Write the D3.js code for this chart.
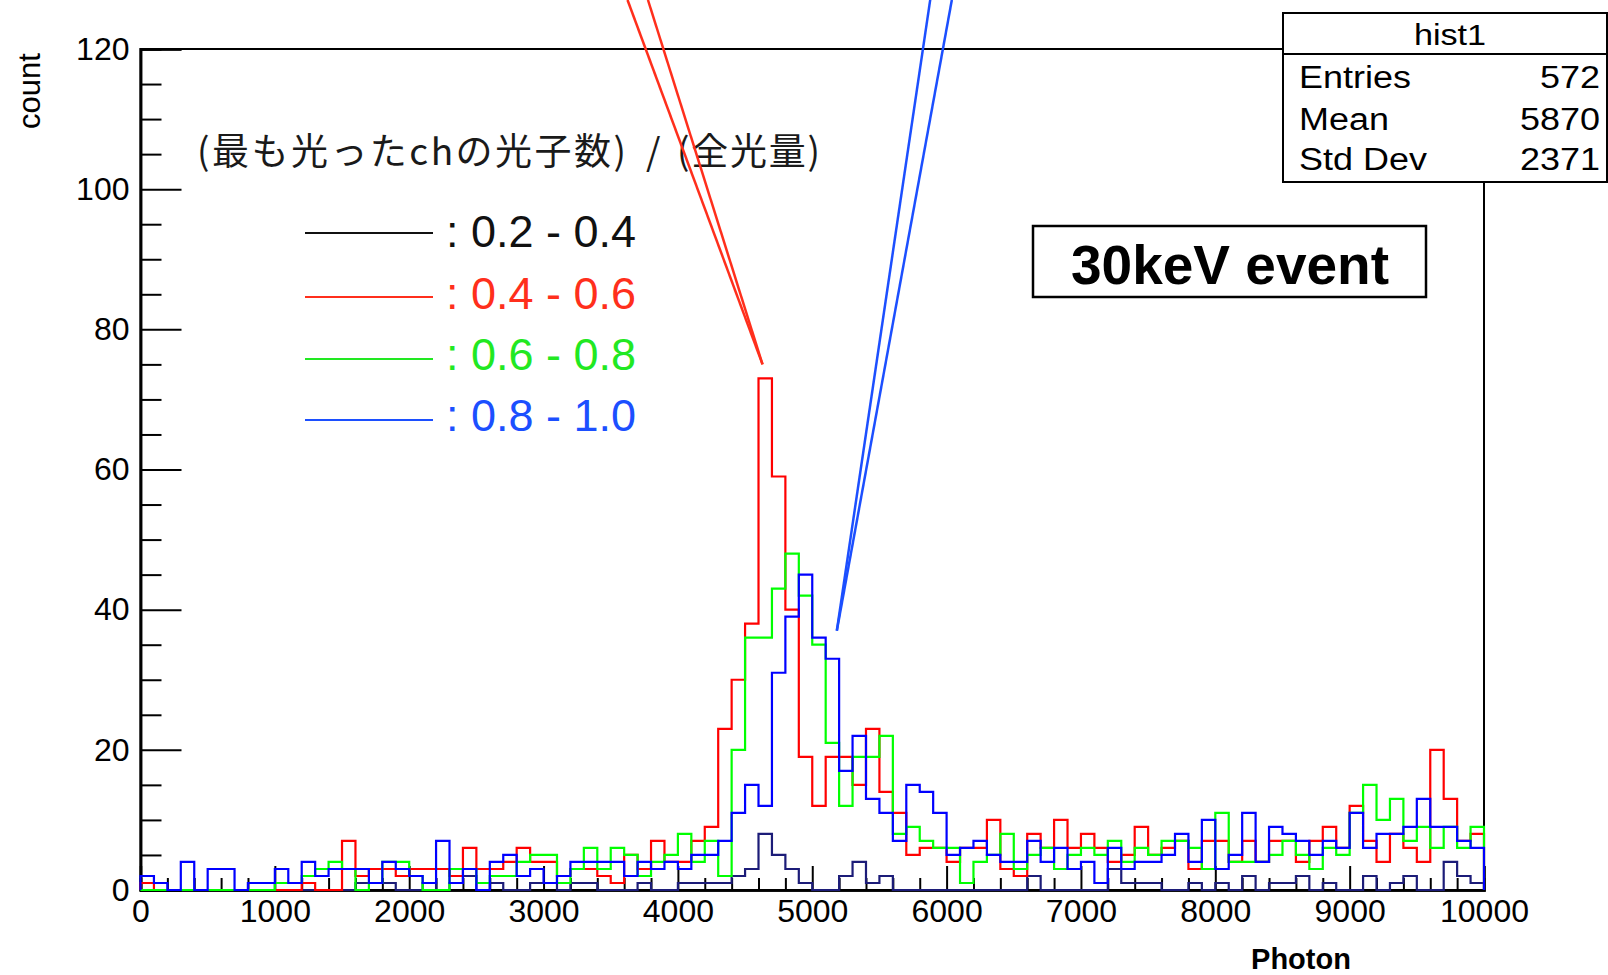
<!DOCTYPE html>
<html>
<head>
<meta charset="utf-8">
<script src="https://cdn.jsdelivr.net/npm/d3@7"></script>
<style>
  html, body { margin: 0; padding: 0; background: #ffffff; }
  svg { display: block; }
</style>
</head>
<body>
<svg id="chart" width="1608" height="975"></svg>
<script>
// ---- histogram binning (100 bins, 0 - 10000 photons) ----
const xMin = 0, xMax = 10000, binWidth = 100;

// counts per bin, one array per (max-ch photons)/(total light) selection
const countsK = [0,0,0,0,0,0,0,0,1,1, 0,0,0,0,0,0,1,1,1,0, 0,1,0,1,2,0,1,0,0,1,
                 1,0,1,1,0,0,0,1,0,0, 1,1,1,1,2,3,8,5,3,1, 0,0,2,4,1,2,0,0,0,0,
                 0,0,0,0,0,0,2,0,0,0, 0,0,3,1,1,1,0,0,1,0, 1,0,2,0,1,1,2,0,1,0,
                 0,2,0,1,2,0,0,4,2,1];
const countsR = [1,0,0,0,0,0,0,0,0,0, 0,0,1,0,0,7,2,3,3,2, 3,3,3,2,6,3,3,4,6,4,
                 4,2,3,3,2,1,5,3,7,4, 4,7,9,23,30,38,73,59,40,19, 12,19,19,15,23,14,11,5,6,6,
                 4,6,6,10,3,2,8,6,10,6, 8,6,4,5,9,5,6,7,3,7, 7,4,7,4,7,7,4,7,9,6,
                 12,7,4,8,6,4,20,13,7,8];
const countsG = [0,0,0,0,0,0,0,0,0,0, 1,1,2,3,4,3,0,1,4,4, 2,0,0,3,3,1,2,2,4,5,
                 5,1,3,6,3,6,5,2,4,5, 8,4,7,2,20,36,36,43,48,42, 35,21,12,19,19,22,8,9,7,6,
                 6,1,4,5,8,3,5,6,3,5, 6,5,7,4,6,5,7,7,6,3, 11,4,4,4,5,7,5,3,6,5,
                 11,15,10,13,7,9,6,9,6,9];
const countsB = [2,1,0,4,0,3,3,0,1,1, 3,1,4,2,3,3,3,1,4,3, 2,1,7,1,3,0,4,5,2,3,
                 1,2,4,4,4,4,2,4,3,4, 3,5,5,7,11,15,12,31,39,45, 36,33,17,22,13,11,7,15,14,11,
                 5,6,7,5,4,4,7,4,6,3, 4,1,6,3,4,4,5,8,4,10, 3,5,11,4,9,8,7,5,7,6,
                 11,6,8,8,9,13,9,9,7,6];

// axis ticks and labels
const yMajorTicks = [0, 20, 40, 60, 80, 100, 120];
const xMajorTicks = [0, 1000, 2000, 3000, 4000, 5000, 6000, 7000, 8000, 9000, 10000];
const yTitle = "count";
const xTitle = "Photon";

// legend
const legendHeaderParts = ["(最も光ったchの光子数)", "/", "(全光量)"];
const legendLabels = [": 0.2 - 0.4", ": 0.4 - 0.6", ": 0.6 - 0.8", ": 0.8 - 1.0"];
const legendColors = ["#111111", "#ff2f1c", "#22e822", "#1c4fff"];
const histColors   = ["#1c1c78", "#ff0000", "#00ff00", "#0000ff"];

// stats box
const statsTitle = "hist1";
const statsNames  = ["Entries", "Mean", "Std Dev"];
const statsValues = ["572", "5870", "2371"];

// annotation pointers, in data coordinates [photon, count]
const redPointers  = [[[3625, 127], [4630, 75]], [[3777, 127], [4630, 75]]];
const bluePointers = [[[5878, 127], [5183, 37]], [[6039, 127], [5183, 37]]];

const eventLabel = "30keV event";

// ---------------------------------------------------------------
const svg = d3.select("#chart");
const plotL = 140.5, plotR = 1484, plotT = 49, plotB = 890;

const x = d3.scaleLinear().domain([xMin, xMax]).range([plotL, plotR]);
const y = d3.scaleLinear().domain([0, 120]).range([plotB, plotT]);

svg.append("rect").attr("width", 1608).attr("height", 975).attr("fill", "#fff");

const FONT = "'Liberation Sans', Arial, Helvetica, sans-serif";
const CJK = "'Noto Sans CJK JP', 'Noto Sans CJK SC', sans-serif";

// frame
svg.append("rect")
  .attr("x", plotL).attr("y", plotT)
  .attr("width", plotR - plotL).attr("height", plotB - plotT)
  .attr("fill", "none").attr("stroke", "#000").attr("stroke-width", 2);

// y axis: major and minor ticks pointing inward
const yMinor = d3.range(0, 121, 5).filter(v => v % 20 !== 0);
svg.append("g").attr("transform", `translate(${plotL},0)`)
  .call(d3.axisLeft(y).tickValues(yMajorTicks).tickSize(-41).tickPadding(11).tickFormat(d3.format("d")));
svg.append("g").attr("transform", `translate(${plotL},0)`)
  .call(d3.axisLeft(y).tickValues(yMinor).tickSize(-21).tickFormat(""));

// x axis
const xMinor = d3.range(0, 10001, 200).filter(v => v % 1000 !== 0);
svg.append("g").attr("transform", `translate(0,${plotB})`)
  .call(d3.axisBottom(x).tickValues(xMajorTicks).tickSize(-24).tickPadding(9).tickFormat(d3.format("d")));
svg.append("g").attr("transform", `translate(0,${plotB})`)
  .call(d3.axisBottom(x).tickValues(xMinor).tickSize(-12).tickFormat(""));

svg.selectAll(".domain").attr("stroke", "#000").attr("stroke-width", 2.5);
svg.selectAll(".tick line").attr("stroke", "#000").attr("stroke-width", 2);
svg.selectAll(".tick text")
  .attr("font-family", FONT).attr("font-size", 32).attr("fill", "#000");

// axis titles
svg.append("text")
  .attr("transform", `translate(40,91) rotate(-90)`)
  .attr("text-anchor", "middle")
  .attr("font-family", FONT).attr("font-size", 31)
  .text(yTitle);
svg.append("text")
  .attr("x", 1301).attr("y", 969)
  .attr("text-anchor", "middle")
  .attr("font-family", FONT).attr("font-size", 29).attr("font-weight", "bold")
  .text(xTitle);

// step outlines
function stepPoints(counts) {
  const pts = [[x(xMin), y(0)]];
  counts.forEach((c, i) => {
    pts.push([x(xMin + i * binWidth), y(c)]);
    pts.push([x(xMin + (i + 1) * binWidth), y(c)]);
  });
  pts.push([x(xMax), y(0)]);
  return pts;
}
const line = d3.line();
[countsK, countsR, countsG, countsB].forEach((counts, k) => {
  svg.append("path")
    .attr("d", line(stepPoints(counts)))
    .attr("fill", "none")
    .attr("stroke", histColors[k])
    .attr("stroke-width", 2.2)
    .attr("stroke-linejoin", "miter");
});

// legend header, three pieces
const headerX = [197, 646, 677];
const headerW = [429, null, 143];
legendHeaderParts.forEach((t, i) => {
  const el = svg.append("text")
    .attr("x", headerX[i]).attr("y", 165)
    .attr("font-family", CJK)
    .attr("font-size", 37).attr("fill", "#1a1a1a")
    .text(t);
  if (headerW[i]) el.attr("textLength", headerW[i]).attr("lengthAdjust", "spacing");
});

const legendY = [233, 297, 359, 420];
const legendBaseline = [247, 309, 370, 431];
legendLabels.forEach((lab, i) => {
  svg.append("line")
    .attr("x1", 305).attr("x2", 433)
    .attr("y1", legendY[i]).attr("y2", legendY[i])
    .attr("stroke", legendColors[i]).attr("stroke-width", 2);
  svg.append("text")
    .attr("x", 446).attr("y", legendBaseline[i])
    .attr("font-family", FONT).attr("font-size", 45)
    .attr("fill", legendColors[i])
    .text(lab);
});

// pointer lines
function drawPointers(ptrs, color) {
  ptrs.forEach(p => {
    svg.append("line")
      .attr("x1", x(p[0][0])).attr("y1", y(p[0][1]))
      .attr("x2", x(p[1][0])).attr("y2", y(p[1][1]))
      .attr("stroke", color).attr("stroke-width", 2.5);
  });
}
drawPointers(redPointers, legendColors[1]);
drawPointers(bluePointers, legendColors[3]);

// event label box
svg.append("rect")
  .attr("x", 1033).attr("y", 226).attr("width", 393).attr("height", 71)
  .attr("fill", "#fff").attr("stroke", "#000").attr("stroke-width", 2.5);
svg.append("text")
  .attr("x", 1230).attr("y", 284)
  .attr("text-anchor", "middle")
  .attr("font-family", FONT).attr("font-size", 55).attr("font-weight", "bold")
  .text(eventLabel);

// stats box
const sb = svg.append("g");
sb.append("rect")
  .attr("x", 1283).attr("y", 13).attr("width", 324).attr("height", 169)
  .attr("fill", "#fff").attr("stroke", "#000").attr("stroke-width", 2);
sb.append("line")
  .attr("x1", 1283).attr("x2", 1607).attr("y1", 54).attr("y2", 54)
  .attr("stroke", "#000").attr("stroke-width", 2);
sb.append("text")
  .attr("transform", "translate(1450,45) scale(1.14,1)")
  .attr("text-anchor", "middle")
  .attr("font-family", FONT).attr("font-size", 30)
  .text(statsTitle);
const rowY = [88, 130, 170];
statsNames.forEach((n, i) => {
  sb.append("text")
    .attr("transform", `translate(1299,${rowY[i]}) scale(1.16,1)`)
    .attr("font-family", FONT).attr("font-size", 31)
    .text(n);
  sb.append("text")
    .attr("transform", `translate(1600,${rowY[i]}) scale(1.16,1)`)
    .attr("text-anchor", "end")
    .attr("font-family", FONT).attr("font-size", 31)
    .text(statsValues[i]);
});
</script>
</body>
</html>
